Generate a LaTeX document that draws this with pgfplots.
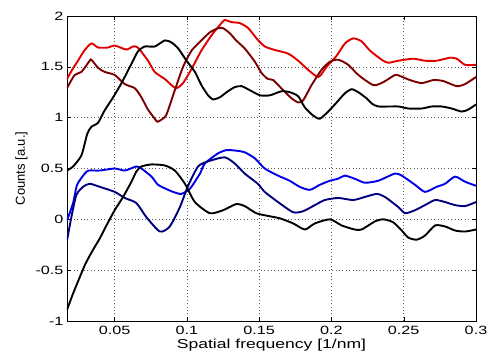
\documentclass[border=0pt]{standalone}
\usepackage{fontspec}
\setmainfont{Liberation Sans}[FakeStretch=1.35]
\newfontfamily\ylabfont{Liberation Sans}
\usepackage{pgfplots}
\pgfplotsset{compat=1.18}
\definecolor{cred}{RGB}{225,0,0}
\definecolor{cdred}{RGB}{125,0,0}
\definecolor{cblue}{RGB}{0,0,230}
\definecolor{cdblue}{RGB}{0,0,125}
\begin{document}
\begin{tikzpicture}
\path[use as bounding box] (-67pt,-33pt) rectangle (420pt,321pt);
\begin{axis}[
  at={(0pt,0pt)}, anchor=south west,
  width=409pt, height=305pt, scale only axis,
  xmin=0.017, xmax=0.3, ymin=-1, ymax=2,
  xtick={0.05,0.1,0.15,0.2,0.25,0.3},
  xticklabels={0.05,0.1,0.15,0.2,0.25,0.3},
  ytick={-1,-0.5,0,0.5,1,1.5,2},
  yticklabels={-1,-0.5,0,0.5,1,1.5,2},
  tick align=inside, major tick length=4pt,
  tick style={black, line width=0.4pt},
  axis line style={black, line width=0.5pt},
  grid=major,
  major grid style={black!65, dash pattern=on 0.8pt off 2.6pt, line width=0.6pt},
  ticklabel style={font=\fontsize{12}{14}\selectfont},
  xticklabel style={yshift=-2pt},
  yticklabel style={xshift=0pt},
  xlabel={Spatial frequency [1/nm]},
  ylabel={\ylabfont Counts [a.u.]},
  xlabel style={font=\fontsize{13}{14}\selectfont, yshift=2.5pt},
  ylabel style={font=\fontsize{13}{14}\selectfont, yshift=1pt},
  every axis plot/.append style={line width=1.9pt, smooth, tension=0.4},
]
% red
\addplot[cred] coordinates {
(0.017,1.38) (0.0205,1.47) (0.0246,1.56) (0.029,1.66) (0.0339,1.73) (0.0385,1.69)
(0.0454,1.69) (0.050,1.71) (0.058,1.67) (0.0627,1.70) (0.066,1.69) (0.0731,1.56)
(0.0777,1.45) (0.0847,1.38) (0.0893,1.32) (0.0928,1.29) (0.0973,1.34) (0.1032,1.48)
(0.110,1.66) (0.117,1.81) (0.1227,1.91) (0.126,1.96) (0.1308,1.94) (0.1366,1.93)
(0.1424,1.88) (0.1493,1.76) (0.154,1.70) (0.1597,1.67) (0.170,1.63) (0.177,1.56)
(0.1839,1.47) (0.191,1.40) (0.1966,1.50) (0.2036,1.61) (0.2093,1.73) (0.215,1.78)
(0.2209,1.75) (0.2266,1.66) (0.2347,1.57) (0.2393,1.54) (0.2462,1.56) (0.2566,1.58)
(0.2647,1.56) (0.2728,1.56) (0.282,1.59) (0.2867,1.58) (0.2924,1.52) (0.300,1.52)
};
% dark red
\addplot[cdred] coordinates {
(0.017,1.29) (0.0223,1.42) (0.027,1.45) (0.0327,1.56) (0.0339,1.57) (0.0385,1.49)
(0.0431,1.45) (0.050,1.42) (0.057,1.33) (0.0639,1.29) (0.0685,1.20) (0.073,1.08)
(0.0777,0.99) (0.0795,0.96) (0.0823,0.98) (0.0858,1.03) (0.0916,1.27) (0.0973,1.50)
(0.1032,1.66) (0.110,1.76) (0.1159,1.84) (0.1216,1.88) (0.125,1.88) (0.1297,1.83)
(0.134,1.76) (0.140,1.68) (0.147,1.55) (0.1516,1.44) (0.156,1.38) (0.1597,1.37)
(0.1666,1.27) (0.1724,1.19) (0.177,1.15) (0.1804,1.17) (0.1862,1.32) (0.1931,1.47)
(0.1989,1.55) (0.2047,1.57) (0.2116,1.52) (0.2186,1.42) (0.229,1.32) (0.2359,1.35)
(0.244,1.42) (0.2474,1.41) (0.2543,1.37) (0.2624,1.34) (0.2705,1.37) (0.2774,1.36)
(0.2867,1.31) (0.2924,1.33) (0.300,1.40)
};
% black upper
\addplot[black] coordinates {
(0.017,0.48) (0.0212,0.52) (0.027,0.63) (0.031,0.84) (0.0339,0.91) (0.0385,0.95)
(0.043,1.07) (0.0489,1.20) (0.0547,1.34) (0.0616,1.53) (0.066,1.65) (0.0708,1.70)
(0.0777,1.70) (0.0847,1.76) (0.0893,1.74) (0.094,1.68) (0.0997,1.56) (0.1055,1.45)
(0.110,1.32) (0.1146,1.22) (0.118,1.18) (0.1227,1.20) (0.1274,1.25) (0.133,1.30)
(0.1378,1.31) (0.1435,1.27) (0.1505,1.22) (0.1574,1.22) (0.1655,1.26) (0.1712,1.25)
(0.177,1.21) (0.1816,1.10) (0.1874,1.02) (0.192,0.99) (0.1977,1.06) (0.2036,1.15)
(0.2093,1.24) (0.214,1.28) (0.2186,1.25) (0.2243,1.19) (0.2278,1.14) (0.2324,1.11)
(0.2462,1.11) (0.2532,1.09) (0.2624,1.09) (0.2693,1.11) (0.2762,1.11) (0.2832,1.09)
(0.2901,1.06) (0.2947,1.08) (0.300,1.13)
};
% blue
\addplot[cblue] coordinates {
(0.017,-0.01) (0.0212,0.16) (0.024,0.34) (0.0293,0.45) (0.032,0.48) (0.0396,0.48)
(0.050,0.50) (0.057,0.48) (0.065,0.52) (0.0685,0.50) (0.0755,0.42) (0.080,0.34)
(0.087,0.29) (0.0904,0.27) (0.096,0.25) (0.102,0.30) (0.109,0.45) (0.1124,0.55)
(0.1216,0.65) (0.127,0.68) (0.131,0.68) (0.137,0.67) (0.140,0.66) (0.147,0.60)
(0.1538,0.50) (0.163,0.43) (0.171,0.38) (0.178,0.32) (0.185,0.29) (0.192,0.34)
(0.199,0.38) (0.2047,0.40) (0.2092,0.43) (0.216,0.40) (0.2231,0.36) (0.2324,0.38)
(0.2439,0.45) (0.2486,0.43) (0.2578,0.34) (0.2647,0.27) (0.2728,0.32) (0.2786,0.35)
(0.2855,0.42) (0.2924,0.37) (0.300,0.33)
};
% dark blue
\addplot[cdblue] coordinates {
(0.017,-0.21) (0.020,0.02) (0.0235,0.24) (0.0281,0.32) (0.0327,0.35) (0.0396,0.32)
(0.050,0.27) (0.057,0.21) (0.065,0.16) (0.072,0.02) (0.0813,-0.12) (0.0881,-0.07)
(0.0951,0.12) (0.1008,0.33) (0.1077,0.52) (0.1146,0.57) (0.126,0.61) (0.133,0.55)
(0.140,0.45) (0.149,0.35) (0.1538,0.27) (0.163,0.17) (0.1735,0.07) (0.1804,0.08)
(0.1885,0.14) (0.1954,0.19) (0.2047,0.21) (0.215,0.19) (0.2231,0.22) (0.2313,0.25)
(0.237,0.22) (0.2463,0.12) (0.251,0.06) (0.2578,0.09) (0.2647,0.14) (0.2717,0.19)
(0.2786,0.17) (0.2855,0.14) (0.2924,0.13) (0.300,0.17)
};
% black lower
\addplot[black] coordinates {
(0.017,-0.89) (0.0212,-0.73) (0.0258,-0.57) (0.030,-0.43) (0.035,-0.30) (0.0396,-0.19)
(0.0443,-0.06) (0.050,0.09) (0.0558,0.22) (0.0616,0.37) (0.065,0.47) (0.0685,0.52)
(0.0755,0.54) (0.0847,0.53) (0.0916,0.48) (0.0986,0.35) (0.1055,0.17) (0.1159,0.06)
(0.125,0.09) (0.134,0.15) (0.140,0.13) (0.148,0.06) (0.1574,0.03) (0.1643,0.01)
(0.1735,-0.04) (0.1816,-0.10) (0.1885,-0.04) (0.199,0.00) (0.207,-0.06) (0.216,-0.10)
(0.2209,-0.10) (0.2301,-0.02) (0.236,0.00) (0.2428,-0.03) (0.2486,-0.11) (0.2532,-0.18)
(0.259,-0.20) (0.2647,-0.16) (0.2717,-0.06) (0.2786,-0.07) (0.2855,-0.11) (0.2924,-0.12)
(0.300,-0.10)
};
\end{axis}
\end{tikzpicture}
\end{document}
